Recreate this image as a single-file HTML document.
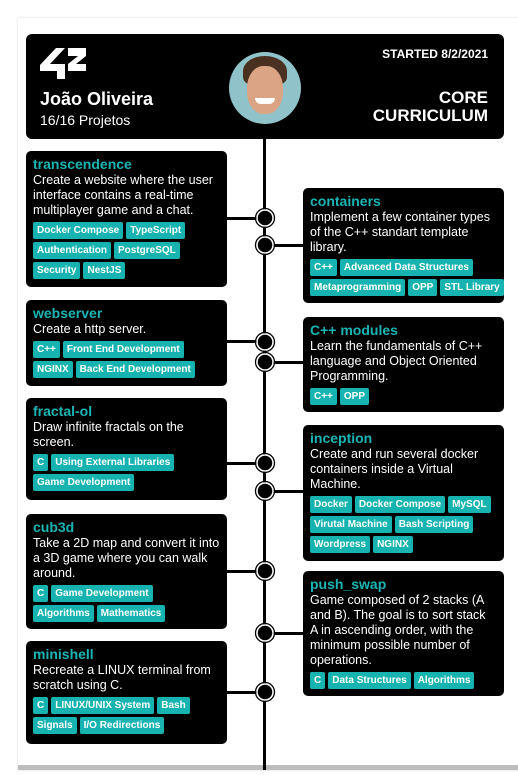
<!DOCTYPE html>
<html><head><meta charset="utf-8"><style>
*{margin:0;padding:0;box-sizing:border-box}
body{width:518px;height:775px;background:#fff;position:relative;overflow:hidden;font-family:"Liberation Sans",Arial,sans-serif}
.frame{position:absolute;left:18px;top:18px;width:520px;height:752px;background:#fff;border-bottom:5px solid #bdbdbd;box-shadow:0 0 3px #ddd}
.box{position:absolute;background:#000;border-radius:5px;color:#fff;padding:6px 7px 0 7px}
.t{color:#19b5b5;font-weight:bold;font-size:14px;line-height:15px}
.d{font-size:12.5px;line-height:15px;margin-top:1px;white-space:nowrap}
.tags{margin-top:4px}
.row{display:flex;gap:3px;margin-bottom:3px;white-space:nowrap}
.tag{background:#16b3b0;color:#fff;font-weight:bold;font-size:10px;line-height:17px;height:17px;padding:0 4px;border-radius:2px;white-space:nowrap}
.line{position:absolute;background:#000}
.hdr{position:absolute;left:26px;top:34px;width:478px;height:105px;background:#000;border-radius:6px;color:#fff}
</style></head><body>
<div class="frame"></div>
<div class="line" style="left:263px;top:135px;width:3px;height:635px"></div>
<div class="hdr">
 <svg style="position:absolute;left:14px;top:14px" width="46" height="32" viewBox="0 0 46 32"><polygon points="0,17 16,0 25,0 10,16 25,16 25,31 17,31 17,23 0,23" fill="#fff"/><polygon points="28,0 46,0 46,8 36,16 46,16 46,23 28,23 28,16 38,8 28,8" fill="#fff"/></svg>
 <div style="position:absolute;left:14px;top:55px;font-size:18px;font-weight:bold">João Oliveira</div>
 <div style="position:absolute;left:14px;top:78px;font-size:14px">16/16 Projetos</div>
 <div style="position:absolute;left:203px;top:18px;width:72px;height:72px;border-radius:50%;background:#8fc3c9;overflow:hidden">
  <div style="position:absolute;left:14px;top:4px;width:44px;height:30px;border-radius:50% 50% 30% 30%;background:#4a3020"></div>
  <div style="position:absolute;left:18px;top:14px;width:36px;height:48px;border-radius:45%;background:#dba585"></div>
  <div style="position:absolute;left:26px;top:46px;width:20px;height:6px;border-radius:0 0 10px 10px;background:#fff"></div>
 </div>
 <div style="position:absolute;right:16px;top:13px;font-size:12px;font-weight:bold">STARTED 8/2/2021</div>
 <div style="position:absolute;right:16px;top:55px;font-size:17px;font-weight:bold;text-align:right;line-height:18px">CORE<br>CURRICULUM</div>
</div>

<div class="line" style="left:227px;top:217px;width:38px;height:3px"></div>
<div class="line" style="left:265px;top:244px;width:38px;height:3px"></div>
<div class="line" style="left:227px;top:340px;width:38px;height:3px"></div>
<div class="line" style="left:265px;top:361px;width:38px;height:3px"></div>
<div class="line" style="left:227px;top:462px;width:38px;height:3px"></div>
<div class="line" style="left:265px;top:490px;width:38px;height:3px"></div>
<div class="line" style="left:227px;top:570px;width:38px;height:3px"></div>
<div class="line" style="left:265px;top:632px;width:38px;height:3px"></div>
<div class="line" style="left:227px;top:691px;width:38px;height:3px"></div>
<svg style="position:absolute;left:0;top:0" width="518" height="775">
<g fill="#000" stroke="#fff" stroke-width="1.5">
<circle cx="265" cy="218" r="8"/><circle cx="265" cy="245" r="8"/><circle cx="265" cy="342" r="8"/><circle cx="265" cy="362" r="8"/><circle cx="265" cy="463" r="8"/><circle cx="265" cy="491" r="8"/><circle cx="265" cy="571" r="8"/><circle cx="265" cy="633" r="8"/><circle cx="265" cy="692" r="8"/>
</g>
<g fill="none" stroke="#000" stroke-width="1.3">
<circle cx="265" cy="218" r="9.5"/><circle cx="265" cy="245" r="9.5"/><circle cx="265" cy="342" r="9.5"/><circle cx="265" cy="362" r="9.5"/><circle cx="265" cy="463" r="9.5"/><circle cx="265" cy="491" r="9.5"/><circle cx="265" cy="571" r="9.5"/><circle cx="265" cy="633" r="9.5"/><circle cx="265" cy="692" r="9.5"/>
</g>
</svg>

<div class="box" style="left:26px;top:151px;width:201px;height:136px"><div class="t">transcendence</div><div class="d">Create a website where the user<br>interface contains a real-time<br>multiplayer game and a chat.</div><div class="tags"><div class="row"><span class="tag">Docker Compose</span><span class="tag">TypeScript</span></div><div class="row"><span class="tag">Authentication</span><span class="tag">PostgreSQL</span></div><div class="row"><span class="tag">Security</span><span class="tag">NestJS</span></div></div></div>

<div class="box" style="left:26px;top:300px;width:201px;height:86px"><div class="t">webserver</div><div class="d">Create a http server.</div><div class="tags"><div class="row"><span class="tag">C++</span><span class="tag">Front End Development</span></div><div class="row"><span class="tag">NGINX</span><span class="tag">Back End Development</span></div></div></div>

<div class="box" style="left:26px;top:398px;width:201px;height:102px"><div class="t">fractal-ol</div><div class="d">Draw infinite fractals on the<br>screen.</div><div class="tags"><div class="row"><span class="tag">C</span><span class="tag">Using External Libraries</span></div><div class="row"><span class="tag">Game Development</span></div></div></div>

<div class="box" style="left:26px;top:514px;width:201px;height:115px"><div class="t">cub3d</div><div class="d">Take a 2D map and convert it into<br>a 3D game where you can walk<br>around.</div><div class="tags"><div class="row"><span class="tag">C</span><span class="tag">Game Development</span></div><div class="row"><span class="tag">Algorithms</span><span class="tag">Mathematics</span></div></div></div>

<div class="box" style="left:26px;top:641px;width:201px;height:103px"><div class="t">minishell</div><div class="d">Recreate a LINUX terminal from<br>scratch using C.</div><div class="tags"><div class="row"><span class="tag">C</span><span class="tag">LINUX/UNIX System</span><span class="tag">Bash</span></div><div class="row"><span class="tag">Signals</span><span class="tag">I/O Redirections</span></div></div></div>

<div class="box" style="left:303px;top:188px;width:201px;height:115px"><div class="t">containers</div><div class="d">Implement a few container types<br>of the C++ standart template<br>library.</div><div class="tags"><div class="row"><span class="tag">C++</span><span class="tag">Advanced Data Structures</span></div><div class="row"><span class="tag">Metaprogramming</span><span class="tag">OPP</span><span class="tag">STL Library</span></div></div></div>

<div class="box" style="left:303px;top:317px;width:201px;height:95px"><div class="t">C++ modules</div><div class="d">Learn the fundamentals of C++<br>language and Object Oriented<br>Programming.</div><div class="tags"><div class="row"><span class="tag">C++</span><span class="tag">OPP</span></div></div></div>

<div class="box" style="left:303px;top:425px;width:201px;height:136px"><div class="t">inception</div><div class="d">Create and run several docker<br>containers inside a Virtual<br>Machine.</div><div class="tags"><div class="row"><span class="tag">Docker</span><span class="tag">Docker Compose</span><span class="tag">MySQL</span></div><div class="row"><span class="tag">Virutal Machine</span><span class="tag">Bash Scripting</span></div><div class="row"><span class="tag">Wordpress</span><span class="tag">NGINX</span></div></div></div>

<div class="box" style="left:303px;top:571px;width:201px;height:125px"><div class="t">push_swap</div><div class="d">Game composed of 2 stacks (A<br>and B). The goal is to sort stack<br>A in ascending order, with the<br>minimum possible number of<br>operations.</div><div class="tags"><div class="row"><span class="tag">C</span><span class="tag">Data Structures</span><span class="tag">Algorithms</span></div></div></div>
</body></html>
